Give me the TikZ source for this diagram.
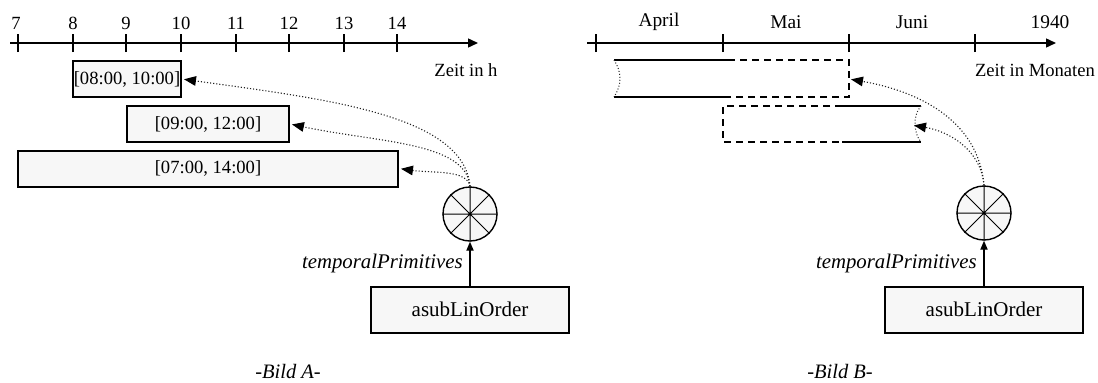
\documentclass[tikz,border=0pt]{standalone}
\usepackage{fontspec}
\setmainfont{Liberation Serif}
\usetikzlibrary{arrows.meta,positioning}

\begin{document}
\begin{tikzpicture}
	[x=0.5pt,y=0.5pt,
	 every node/.style={font=\fontsize{9.3}{11}\selectfont},
	 interval/.style={draw,line width=1pt,fill=gray!6,minimum height=18pt,inner sep=0pt},
	 source/.style={draw,line width=1pt,fill=gray!6,minimum width=99pt,minimum height=23pt,font=\fontsize{10.5}{12}\selectfont},
	 combine/.style={draw,circle,line width=0.7pt,fill=gray!6,minimum size=27pt,inner sep=0pt},
	 axis/.style={line width=0.7pt,-{Triangle[length=5pt,width=4.5pt]}},
	 tick/.style={line width=0.6pt},
	 link/.style={densely dotted,gray!25!black,line width=0.55pt,-{Triangle[length=6pt,width=4.8pt,color=black]},shorten >=1pt},
	 feed/.style={line width=0.7pt,-{Triangle[length=4.5pt,width=3.6pt]}},
	 bar/.style={line width=1pt},
	 gap/.style={line width=1pt,dash pattern=on 3.5pt off 2.5pt},
	 cut/.style={densely dotted,gray!30!black,line width=0.5pt},
	 month/.style={font=\fontsize{9.7}{11}\selectfont},
	 caption/.style={font=\fontsize{10.25}{12}\selectfont\itshape}]

	\useasboundingbox (0,0) rectangle (1098,382);

	% Bild A
	\draw[axis] (10,339) -- (478,339);
	\draw[tick] (18,330) -- (18,348);
	\draw[tick] (73,330) -- (73,348);
	\draw[tick] (126,330) -- (126,348);
	\draw[tick] (181,330) -- (181,348);
	\draw[tick] (236,330) -- (236,348);
	\draw[tick] (289,330) -- (289,348);
	\draw[tick] (344,330) -- (344,348);
	\draw[tick] (397,330) -- (397,348);
	\node (h7) at (16,359) {7};
	\node (h8) at (73,359) {8};
	\node (h9) at (126,359) {9};
	\node (h10) at (181,359) {10};
	\node (h11) at (236,359) {11};
	\node (h12) at (289,359) {12};
	\node (h13) at (344,359) {13};
	\node (h14) at (397,359) {14};
	\node (unitA) at (466,312) {Zeit in h};

	\node[interval,minimum width=54pt] (i1) at (127,303) {[08:00, 10:00]};
	\node[interval,minimum width=81pt] (i2) at (208,258) {[09:00, 12:00]};
	\node[interval,minimum width=190pt] (i3) at (208,213.5) {[07:00, 14:00]};

	\node[combine] (ca) at (470,168) {};
	\draw[line width=0.5pt] (ca.north) -- (ca.south) (ca.west) -- (ca.east)
		(ca.north east) -- (ca.south west) (ca.north west) -- (ca.south east);
	\node[source] (la) at (470,72.5) {asubLinOrder};

	\path (la) edge[feed] node[midway,left,font=\fontsize{10.4}{12}\selectfont\itshape] {temporalPrimitives} (ca);
	\path (ca.north) edge[link,out=95,in=-8,out looseness=0.6,in looseness=1.2] (i1.east);
	\path (ca.north) edge[link,out=95,in=-12,out looseness=0.6,in looseness=1.2] (i2.east);
	\path (ca.north) edge[link,out=100,in=-8,out looseness=0.6,in looseness=1.2] (i3.east);

	\node[caption] (bildA) at (288,11) {-Bild A-};

	% Bild B
	\draw[axis] (587,339) -- (1056,339);
	\draw[tick] (596,330) -- (596,348);
	\draw[tick] (723,330) -- (723,348);
	\draw[tick] (849,330) -- (849,348);
	\draw[tick] (975,330) -- (975,348);
	\node[month] (apr) at (659,360) {April};
	\node[month] (mai) at (786,360) {Mai};
	\node[month] (jun) at (912,360) {Juni};
	\node[month] (year) at (1050,360) {1940};
	\node (unitB) at (1035,312) {Zeit in Monaten};

	\draw[bar] (614,322) -- (728,322) (614,285) -- (728,285);
	\draw[gap] (728,322) -- (849,322) -- (849,285) -- (728,285);
	\draw[cut] (614,322) .. controls (622,310) and (622,297) .. (614,285);
	\draw[gap] (842,276) -- (723,276) -- (723,240) -- (842,240);
	\draw[bar] (842,276) -- (921,276) (842,240) -- (921,240);
	\draw[cut] (921,276) .. controls (912,266) and (914,248) .. (921,240);
	\coordinate (e1) at (849,303);
	\coordinate (e2) at (912,257);

	\node[combine] (cb) at (984,169) {};
	\draw[line width=0.5pt] (cb.north) -- (cb.south) (cb.west) -- (cb.east)
		(cb.north east) -- (cb.south west) (cb.north west) -- (cb.south east);
	\node[source] (lb) at (984,72.5) {asubLinOrder};

	\path (lb) edge[feed] node[midway,left,font=\fontsize{10.4}{12}\selectfont\itshape] {temporalPrimitives} (cb);
	\path (cb.north) edge[link,out=95,in=-10] (e1);
	\path (cb.north) edge[link,out=95,in=-10] (e2);

	\node[caption] (bildB) at (840,11) {-Bild B-};

\end{tikzpicture}
\end{document}
